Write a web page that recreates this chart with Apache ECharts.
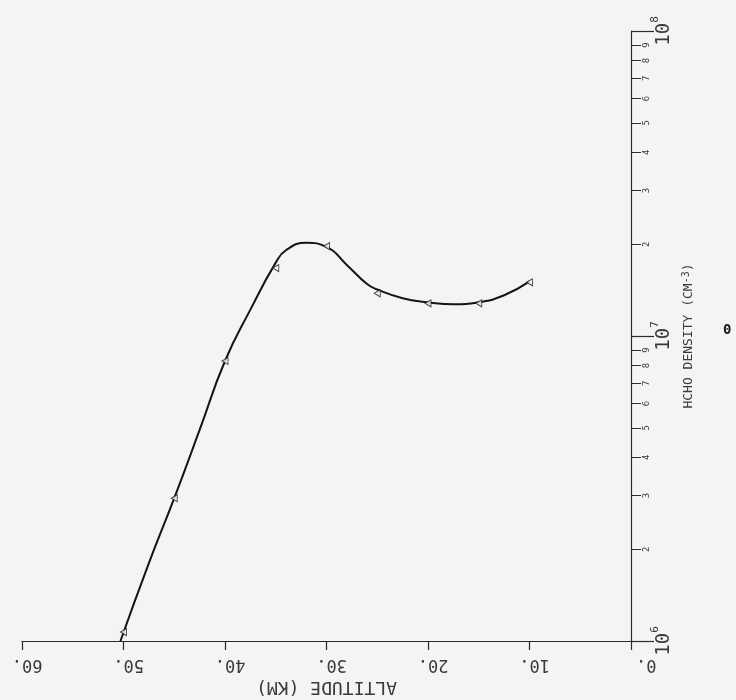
<!DOCTYPE html>
<html>
<head>
<meta charset="utf-8">
<script src="https://cdn.jsdelivr.net/npm/echarts@6/dist/echarts.min.js"></script>
<style>
html,body{margin:0;padding:0;background:#f4f4f2;}
#chart{width:736px;height:700px;}
</style>
</head>
<body>
<div id="chart"></div>
<script>
// Marker readings (altitude km, HCHO density cm^-3)
const markerAltitudes = [50, 45, 40, 35, 30, 25, 20, 15, 10];
const markerDensities = [1.07e6, 2.94e6, 8.28e6, 1.67e7, 1.97e7, 1.38e7, 1.28e7, 1.28e7, 1.50e7];
// Drawn curve readings
const curveAltitudes = [50.3, 47.5, 45, 42.5, 40, 37.5, 35, 34, 32, 30, 28, 26, 25, 22.5, 20, 17.5, 15, 12.5, 10];
const curveDensities = [1.0e6, 1.80e6, 2.94e6, 4.92e6, 8.28e6, 1.22e7, 1.74e7, 1.91e7, 2.02e7, 1.96e7, 1.71e7, 1.48e7, 1.42e7, 1.33e7, 1.29e7, 1.27e7, 1.29e7, 1.36e7, 1.51e7];
// Axis ticks
const altitudeTicks = [0, 10, 20, 30, 40, 50, 60];
const majorDensityTicks = [1e6, 1e7, 1e8];
const minorDensityTicks = [2e6, 3e6, 4e6, 5e6, 6e6, 7e6, 8e6, 9e6, 2e7, 3e7, 4e7, 5e7, 6e7, 7e7, 8e7, 9e7];
const xTitle = 'ALTITUDE (KM)';
const yTitle = 'HCHO DENSITY (CM{s|-3})';
const cornerMark = '0';

const MONO = '"DejaVu Sans Mono", "Liberation Mono", monospace';
const INK = '#3a3a3a';

const chart = echarts.init(document.getElementById('chart'));

const markerData = markerAltitudes.map((a, i) => [a, markerDensities[i]]);
const curveData = curveAltitudes.map((a, i) => [a, curveDensities[i]]);

function mantissa(v) {
  const e = Math.floor(Math.log10(v) + 1e-9);
  return String(Math.round(v / Math.pow(10, e)));
}
function exponent(v) {
  return String(Math.round(Math.log10(v)));
}

chart.setOption({
  backgroundColor: '#f4f4f2',
  animation: false,
  grid: { left: 22, right: 105, top: 31, bottom: 59, containLabel: false, outerBoundsMode: 'none' },
  xAxis: {
    type: 'value',
    min: altitudeTicks[0],
    max: altitudeTicks[altitudeTicks.length - 1],
    interval: 10,
    inverse: true,
    position: 'bottom',
    name: xTitle,
    nameLocation: 'middle',
    nameRotate: 180,
    nameGap: 33,
    nameTextStyle: { fontFamily: MONO, fontSize: 18, color: INK },
    axisLine: { show: true, lineStyle: { color: '#2a2a2a', width: 1.2 } },
    axisTick: { show: true, inside: false, length: 9, lineStyle: { color: '#2a2a2a', width: 1.2 } },
    axisLabel: {
      rotate: 180,
      margin: 15,
      fontFamily: MONO,
      fontSize: 17,
      color: INK,
      formatter: v => (v === 0 ? '0.   ' : v + '. ')
    },
    splitLine: { show: false }
  },
  yAxis: [
    {
      type: 'log',
      logBase: 10,
      min: majorDensityTicks[0],
      max: majorDensityTicks[majorDensityTicks.length - 1],
      position: 'right',
      name: yTitle,
      nameLocation: 'middle',
      nameRotate: 90,
      nameGap: 46,
      nameTextStyle: {
        fontFamily: MONO, fontSize: 13, color: INK,
        rich: { s: { fontFamily: MONO, fontSize: 10, color: INK, verticalAlign: 'top' } }
      },
      axisLine: { show: true, lineStyle: { color: '#2a2a2a', width: 1.2 } },
      axisTick: { show: true, inside: false, length: 23, customValues: majorDensityTicks, lineStyle: { color: '#2a2a2a', width: 1.2 } },
      axisLabel: {
        customValues: majorDensityTicks,
        rotate: 90,
        margin: 19,
        formatter: v => '{b|10}{s|' + exponent(v) + '}',
        rich: {
          b: { fontFamily: MONO, fontSize: 19, color: INK, verticalAlign: 'bottom', lineHeight: 24 },
          s: { fontFamily: MONO, fontSize: 11, color: INK, verticalAlign: 'top' }
        }
      },
      splitLine: { show: false }
    },
    {
      type: 'log',
      logBase: 10,
      min: majorDensityTicks[0],
      max: majorDensityTicks[majorDensityTicks.length - 1],
      position: 'right',
      axisLine: { show: false },
      axisTick: { show: true, inside: false, length: 10, customValues: minorDensityTicks, lineStyle: { color: '#2a2a2a', width: 1 } },
      axisLabel: {
        customValues: minorDensityTicks,
        rotate: 90,
        margin: 11,
        fontFamily: MONO,
        fontSize: 9,
        color: INK,
        formatter: v => mantissa(v)
      },
      splitLine: { show: false }
    }
  ],
  graphic: [
    {
      type: 'text',
      left: 723,
      top: 323,
      style: { text: cornerMark, font: 'bold 14px ' + MONO, fill: '#1a1a1a' }
    }
  ],
  series: [
    {
      type: 'line',
      data: curveData,
      yAxisIndex: 0,
      smooth: 0.5,
      showSymbol: false,
      symbol: 'none',
      lineStyle: { color: '#141414', width: 2 },
      z: 2
    },
    {
      type: 'scatter',
      data: markerData,
      yAxisIndex: 0,
      symbol: 'triangle',
      symbolSize: [7, 6],
      symbolRotate: 90,
      itemStyle: { color: '#f4f4f2', borderColor: '#222', borderWidth: 1 },
      z: 3
    }
  ]
});
</script>
</body>
</html>
